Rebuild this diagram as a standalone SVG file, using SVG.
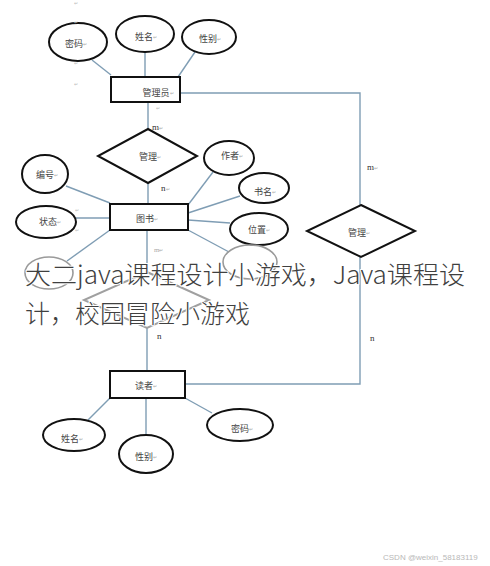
<svg xmlns="http://www.w3.org/2000/svg" width="490" height="566" viewBox="0 0 490 566">
<style>
.bg{fill:#ffffff}
.ell{fill:#ffffff;stroke:#111;stroke-width:2}
.ellf{fill:none;stroke:#9a9a9a;stroke-width:1.6}
.box{fill:#ffffff;stroke:#111;stroke-width:2}
.dia{fill:#ffffff;stroke:#111;stroke-width:2}
.diaf{fill:none;stroke:#a0a0a0;stroke-width:2}
.ln{stroke:#7f9db4;stroke-width:1.4;fill:none}
.lbl{font-family:"Noto Sans CJK SC","Noto Sans",sans-serif;font-size:9px;fill:#444;text-anchor:middle;dominant-baseline:central}
.rm{font-size:5px;fill:#aaa}
.mark{font-family:"DejaVu Sans",sans-serif;font-size:5px;fill:#bbb}
.card{font-family:"Liberation Serif",serif;font-size:9px;fill:#333}
.cardf{font-family:"Liberation Serif",serif;font-size:7px;fill:#aaa}
.wm{font-family:"Noto Sans CJK SC",sans-serif;font-size:25px;font-weight:300;fill:#404040;stroke:#ffffff;stroke-width:2;paint-order:stroke;stroke-linejoin:round}
.csdn{font-family:"Liberation Sans",sans-serif;font-size:8px;fill:#b8b8b8}
</style>
<rect class="bg" x="0" y="0" width="490" height="566"/>

<g id="connectors">
<line class="ln" x1="92" y1="60" x2="111" y2="75"/>
<line class="ln" x1="145" y1="52" x2="145" y2="77"/>
<line class="ln" x1="195" y1="52" x2="178" y2="77"/>
<polyline class="ln" points="180,93 360,93 360,205"/>
<polyline class="ln" points="360,257 360,384 185,384"/>
<line class="ln" x1="148" y1="102" x2="148" y2="129"/>
<line class="ln" x1="148" y1="183" x2="148" y2="204"/>
<line class="ln" x1="66" y1="186" x2="110" y2="203"/>
<line class="ln" x1="76" y1="218" x2="110" y2="218"/>
<line class="ln" x1="213" y1="172" x2="188" y2="205"/>
<line class="ln" x1="240" y1="196" x2="188" y2="213"/>
<line class="ln" x1="188" y1="220" x2="230" y2="223"/>
<line class="ln" x1="188" y1="230" x2="229" y2="252"/>
<line class="ln" x1="110" y1="230" x2="67" y2="261"/>
<line class="ln" x1="147" y1="230" x2="147" y2="272"/>
<line class="ln" x1="147" y1="328" x2="147" y2="371"/>
<line class="ln" x1="110" y1="398" x2="88" y2="420"/>
<line class="ln" x1="146" y1="398" x2="146" y2="435"/>
<line class="ln" x1="185" y1="398" x2="212" y2="413"/>
</g>

<g id="admin">
<rect class="box" x="111" y="77" width="69" height="25"/>
<text class="lbl" x="158" y="92">管理员<tspan class="rm">↵</tspan></text>
</g>
<g id="admin-pwd">
<ellipse class="ell" cx="78" cy="42" rx="29" ry="19"/>
<text class="lbl" x="76" y="43">密码<tspan class="rm">↵</tspan></text>
</g>
<g id="admin-name">
<ellipse class="ell" cx="145" cy="34" rx="29" ry="18"/>
<text class="lbl" x="146" y="36">姓名<tspan class="rm">↵</tspan></text>
</g>
<g id="admin-sex">
<ellipse class="ell" cx="209" cy="37" rx="27" ry="17"/>
<text class="lbl" x="210" y="38">性别<tspan class="rm">↵</tspan></text>
</g>

<g id="manage1">
<polygon class="dia" points="148,129 197,156 148,183 98,156"/>
<text class="lbl" x="150" y="156">管理<tspan class="rm">↵</tspan></text>
</g>

<g id="book">
<rect class="box" x="110" y="204" width="78" height="26"/>
<text class="lbl" x="147" y="218">图书<tspan class="rm">↵</tspan></text>
</g>
<g id="book-id">
<ellipse class="ell" cx="45" cy="174" rx="23" ry="19"/>
<text class="lbl" x="47" y="174">编号<tspan class="rm">↵</tspan></text>
</g>
<g id="book-status">
<ellipse class="ell" cx="46" cy="222" rx="30" ry="16"/>
<text class="lbl" x="50" y="221">状态<tspan class="rm">↵</tspan></text>
</g>
<g id="book-author">
<ellipse class="ell" cx="229" cy="158" rx="25" ry="17"/>
<text class="lbl" x="232" y="155">作者<tspan class="rm">↵</tspan></text>
</g>
<g id="book-title">
<ellipse class="ell" cx="264" cy="188" rx="25" ry="15"/>
<text class="lbl" x="265" y="191">书名<tspan class="rm">↵</tspan></text>
</g>
<g id="book-location">
<ellipse class="ell" cx="259" cy="229" rx="29" ry="16"/>
<text class="lbl" x="259" y="229">位置<tspan class="rm">↵</tspan></text>
</g>
<g id="book-hidden-right">
<ellipse class="ellf" cx="250" cy="262" rx="27" ry="17"/>
</g>
<g id="book-hidden-left">
<ellipse class="ellf" cx="49" cy="273" rx="24" ry="16"/>
</g>

<g id="borrow">
<polygon class="diaf" points="147,272 209,300 147,328 84,300"/>
</g>

<g id="manage2">
<polygon class="dia" points="361,205 415,231 361,257 307,231"/>
<text class="lbl" x="359" y="232">管理<tspan class="rm">↵</tspan></text>
</g>

<g id="reader">
<rect class="box" x="110" y="371" width="75" height="27"/>
<text class="lbl" x="146" y="385">读者<tspan class="rm">↵</tspan></text>
</g>
<g id="reader-name">
<ellipse class="ell" cx="74" cy="435" rx="31" ry="16"/>
<text class="lbl" x="72" y="438">姓名<tspan class="rm">↵</tspan></text>
</g>
<g id="reader-sex">
<ellipse class="ell" cx="146" cy="454" rx="27" ry="19"/>
<text class="lbl" x="146" y="456">性别<tspan class="rm">↵</tspan></text>
</g>
<g id="reader-pwd">
<ellipse class="ell" cx="240" cy="425" rx="33" ry="16"/>
<text class="lbl" x="242" y="428">密码<tspan class="rm">↵</tspan></text>
</g>

<g id="cardinalities">
<text class="card" x="152" y="130">m<tspan class="rm">↵</tspan></text>
<text class="card" x="161" y="191">n<tspan class="rm">↵</tspan></text>
<text class="card" x="367" y="170">m<tspan class="rm">↵</tspan></text>
<text class="card" x="370" y="341">n</text>
<text class="cardf" x="154" y="252">m<tspan class="rm">↵</tspan></text>
<text class="card" x="157" y="339">n</text>
</g>

<g id="marks">
<text class="mark" x="74" y="5">↵</text>
<text class="mark" x="74" y="24">↵</text>
<text class="mark" x="74" y="65">↵</text>
<text class="mark" x="74" y="86">↵</text>
<text class="mark" x="156" y="110">↵</text>
<text class="mark" x="75" y="212">↵</text>
<text class="mark" x="75" y="232">↵</text>
</g>

<g id="watermark">
<text class="wm" x="25" y="284" textLength="440" lengthAdjust="spacingAndGlyphs">大二java课程设计小游戏，Java课程设</text>
<text class="wm" x="25" y="323">计，校园冒险小游戏</text>
<text class="csdn" x="383" y="560">CSDN @weixin_58183119</text>
</g>
</svg>
